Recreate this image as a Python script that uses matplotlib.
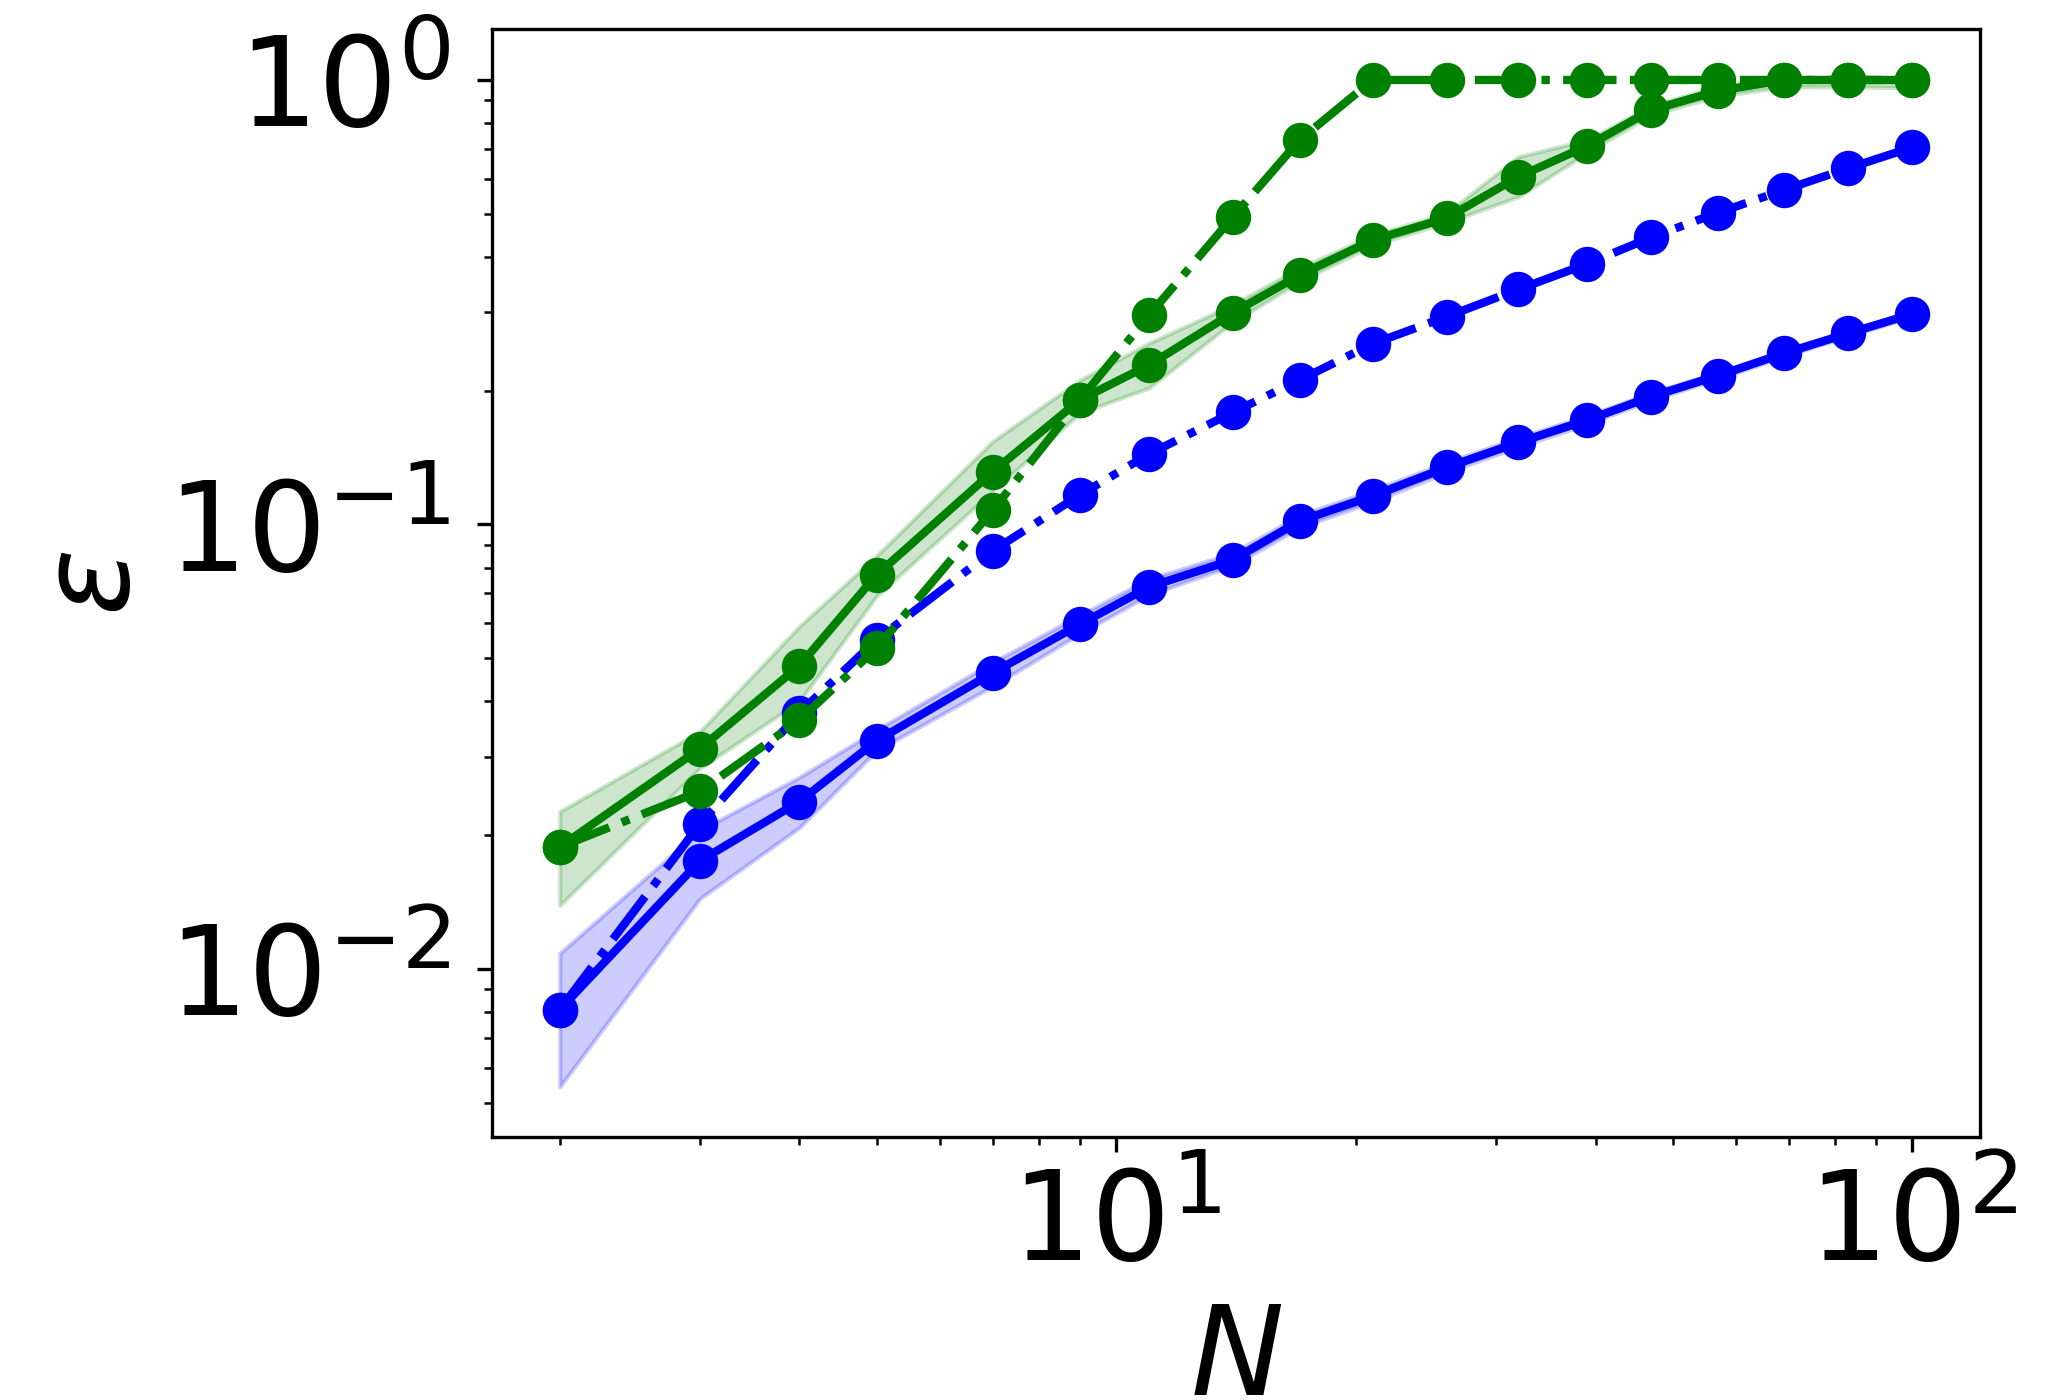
import matplotlib
matplotlib.use("Agg")
import matplotlib.pyplot as plt

# ---- data ----
N = [2, 3, 4, 5, 7, 9, 11, 14, 17, 21, 26, 32, 39, 47, 57, 69, 83, 100]

blue_solid = [0.0081, 0.0175, 0.0238, 0.0326, 0.0464, 0.0596, 0.0724, 0.0832, 0.1018,
              0.1159, 0.1344, 0.153, 0.1716, 0.194, 0.2162, 0.2426, 0.269, 0.2976]
blue_lo = [0.00543, 0.0144, 0.0208, 0.0310, 0.0433, 0.0568, 0.0695, 0.0808, 0.0985,
           0.1125, 0.1310, 0.1495, 0.1680, 0.1905, 0.2125, 0.2390, 0.2650, 0.2935]
blue_hi = [0.01084, 0.0205, 0.0270, 0.0345, 0.0490, 0.0625, 0.0755, 0.0862, 0.1050,
           0.1195, 0.1380, 0.1570, 0.1755, 0.1980, 0.2200, 0.2465, 0.2730, 0.3020]
blue_dashdot = [0.0081, 0.0212, 0.0377, 0.0550, 0.0873, 0.1165, 0.1441, 0.1786, 0.2114,
                0.255, 0.2935, 0.338, 0.3855, 0.4427, 0.503, 0.5655, 0.633, 0.7057]

green_solid = [0.0188, 0.0313, 0.0481, 0.0770, 0.1315, 0.1906, 0.2285, 0.299, 0.364,
               0.4365, 0.489, 0.606, 0.710, 0.856, 0.945, 1.0, 1.0, 1.0]
green_lo = [0.0139, 0.0283, 0.0400, 0.0690, 0.1190, 0.1780, 0.2030, 0.2850, 0.3520,
            0.4250, 0.4780, 0.5460, 0.6850, 0.8350, 0.9200, 0.9650, 0.9650, 0.9600]
green_hi = [0.0226, 0.0342, 0.0590, 0.0850, 0.1540, 0.2110, 0.2560, 0.3120, 0.3780,
            0.4480, 0.5020, 0.6720, 0.7330, 0.8750, 0.9700, 1.0, 1.0, 1.0]
green_dashdot = [0.0188, 0.0251, 0.0363, 0.0527, 0.1078, 0.1906, 0.296, 0.491, 0.733,
                 1.0, 1.0, 1.0, 1.0, 1.0, 1.0, 1.0, 1.0, 1.0]

x_label = "$N$"
y_label = r"$\varepsilon$"

# ---- figure ----
fig = plt.figure(figsize=(2053 / 300, 1400 / 300), dpi=300)
ax = fig.add_axes([0.2397, 0.1879, 0.7248, 0.7914])

lw = 2.0
ms = 7.5

ax.fill_between(N, blue_lo, blue_hi, color="blue", alpha=0.2)
ax.plot(N, blue_solid, "-o", color="blue", lw=lw, ms=ms)
ax.plot(N, blue_dashdot, "-.o", color="blue", lw=lw, ms=ms)

ax.fill_between(N, green_lo, green_hi, color="green", alpha=0.2)
ax.plot(N, green_solid, "-o", color="green", lw=lw, ms=ms)
ax.plot(N, green_dashdot, "-.o", color="green", lw=lw, ms=ms)

ax.set_xscale("log")
ax.set_yscale("log")
ax.set_ylim(10 ** -2.378, 10 ** 0.1147)

ax.tick_params(axis="both", which="major", labelsize=30)
ax.tick_params(axis="y", which="major", pad=6.5)
ax.set_xlabel(x_label, fontsize=30, labelpad=3)
ax.set_ylabel(y_label, fontsize=30, labelpad=3)

fig.savefig("out.png", dpi=300)
